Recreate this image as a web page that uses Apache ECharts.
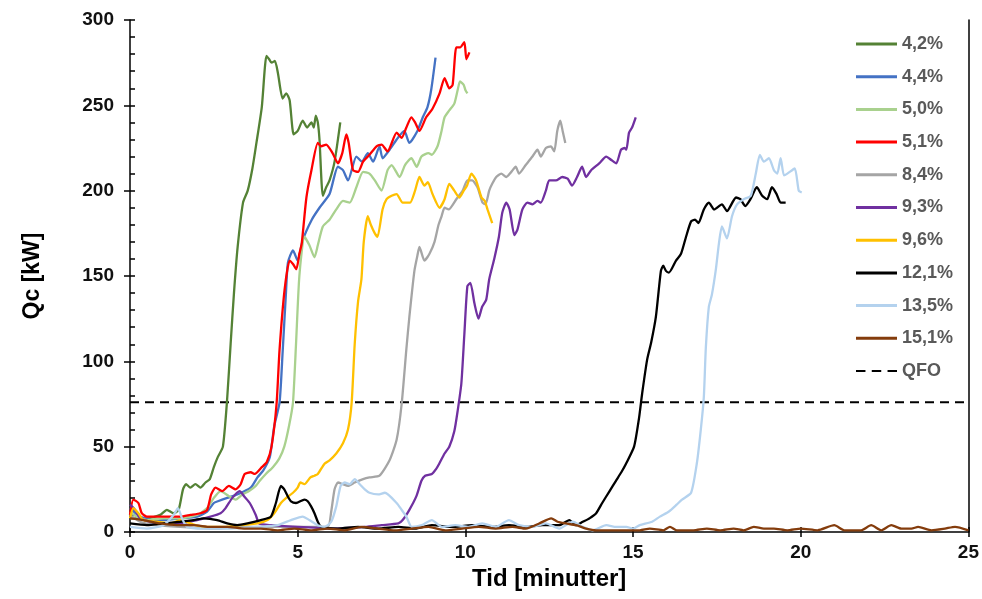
<!DOCTYPE html>
<html>
<head>
<meta charset="utf-8">
<title>Qc over tid</title>
<script src="https://cdn.jsdelivr.net/npm/echarts@6/dist/echarts.min.js"></script>
<style>
  html, body { margin: 0; padding: 0; background: #fff; }
  #chart { width: 982px; height: 599px; }
</style>
</head>
<body>
<div id="chart"></div>
<script>
// Measured heat release Qc [kW] against time [minutes], one curve per concentration.
const seriesNames = ['4,2%', '4,4%', '5,0%', '5,1%', '8,4%', '9,3%', '9,6%', '12,1%', '13,5%', '15,1%'];
const qfoName = 'QFO';
const qfoValue = 76;

const xTicks = [0, 5, 10, 15, 20, 25];
const yTicks = [0, 50, 100, 150, 200, 250, 300];

const time42 = [0, 0.5, 0.9, 1.1, 1.3, 1.45, 1.58, 1.67, 1.8, 1.95, 2.1, 2.25, 2.38, 2.5, 2.62, 2.77, 2.89, 3.0, 3.1, 3.21, 3.37, 3.51, 3.65, 3.77, 3.93, 4.07, 4.15, 4.22, 4.32, 4.41, 4.55, 4.66, 4.76, 4.88, 5.0, 5.15, 5.28, 5.41, 5.48, 5.54, 5.6, 5.65, 5.75, 5.85, 5.95, 6.1, 6.27];
const qc42   = [8, 8, 10, 13, 11, 13, 25, 28, 26, 28, 26, 29, 31, 38, 44, 50, 76, 110, 140, 167, 193, 200, 213, 228, 249, 279, 277, 275, 276, 269, 254, 257, 253, 233, 235, 241, 237, 240, 237, 244, 240, 230, 197, 202, 206, 217, 240];

const time44 = [0, 0.3, 0.7, 1.0, 1.5, 2.0, 2.3, 2.5, 2.62, 2.9, 3.2, 3.6, 3.8, 3.97, 4.17, 4.3, 4.46, 4.55, 4.65, 4.71, 4.86, 5.0, 5.15, 5.42, 5.65, 5.95, 6.2, 6.35, 6.5, 6.75, 6.92, 7.09, 7.25, 7.44, 7.53, 7.74, 7.99, 8.18, 8.33, 8.57, 8.73, 8.87, 8.98, 9.11];
const qc44   = [14, 9, 7, 7, 8, 9, 12, 17, 18, 20, 22, 26, 32, 36, 44, 62, 76, 105, 140, 158, 165, 159, 171, 183, 190, 198, 214, 212, 206, 220, 217, 222, 217, 226, 219, 224, 231, 235, 228, 235, 243, 249, 259, 278];

const time50 = [0, 0.2, 0.5, 1.0, 1.5, 2.0, 2.3, 2.5, 2.7, 2.95, 3.15, 3.35, 3.55, 3.75, 3.87, 4.05, 4.26, 4.45, 4.6, 4.75, 4.86, 4.95, 5.05, 5.2, 5.35, 5.5, 5.6, 5.75, 5.95, 6.15, 6.35, 6.55, 6.75, 6.95, 7.14, 7.3, 7.5, 7.68, 7.8, 8.04, 8.2, 8.39, 8.55, 8.69, 8.9, 9.0, 9.17, 9.29, 9.38, 9.52, 9.67, 9.77, 9.84, 9.95, 10.0, 10.06];
const qc50   = [12, 9, 7, 8, 8, 10, 14, 20, 24, 21, 19, 22, 24, 27, 30, 34, 38, 43, 50, 63, 76, 110, 150, 173, 168, 161, 168, 179, 183, 189, 194, 193, 202, 211, 210, 206, 200, 212, 215, 208, 215, 219, 214, 220, 222, 221, 226, 235, 243, 247, 251, 259, 264, 262, 259, 257];

const time51 = [0, 0.1, 0.25, 0.35, 0.5, 1.0, 1.5, 1.8, 2.1, 2.3, 2.42, 2.55, 2.75, 2.95, 3.15, 3.3, 3.42, 3.6, 3.72, 3.93, 4.08, 4.22, 4.37, 4.46, 4.61, 4.76, 4.86, 4.96, 5.05, 5.12, 5.26, 5.41, 5.6, 5.7, 5.85, 6.04, 6.2, 6.33, 6.45, 6.52, 6.65, 6.8, 6.95, 7.14, 7.35, 7.5, 7.68, 7.95, 8.1, 8.24, 8.39, 8.5, 8.63, 8.83, 9.02, 9.23, 9.38, 9.52, 9.62, 9.73, 9.85, 9.97, 10.03, 10.12];
const qc51   = [10, 19, 17, 11, 9, 9, 9, 10, 11, 13, 22, 26, 24, 27, 25, 28, 34, 35, 34, 38, 41, 50, 75, 107, 142, 159, 157, 154, 163, 169, 196, 212, 228, 226, 227, 222, 216, 222, 233, 228, 212, 211, 217, 221, 226, 227, 223, 234, 231, 237, 243, 240, 235, 243, 248, 257, 266, 260, 262, 284, 284, 287, 277, 281];

const time84 = [0, 0.3, 0.8, 1.5, 2.5, 3.5, 4.5, 5.5, 5.9, 6.0, 6.1, 6.2, 6.35, 6.5, 6.7, 6.95, 7.14, 7.44, 7.74, 7.95, 8.1, 8.24, 8.33, 8.48, 8.57, 8.63, 8.78, 8.93, 9.08, 9.2, 9.29, 9.38, 9.5, 9.73, 9.92, 10.06, 10.2, 10.36, 10.51, 10.6, 10.71, 10.8, 10.92, 11.07, 11.22, 11.37, 11.5, 11.6, 11.8, 12.0, 12.15, 12.25, 12.4, 12.55, 12.65, 12.74, 12.83, 12.9, 12.98];
const qc84   = [10, 6, 4, 3, 2, 3, 3, 3, 3, 12, 25, 29, 28, 27, 29, 31, 32, 33, 42, 54, 75, 107, 126, 153, 162, 167, 159, 163, 170, 180, 185, 190, 189, 195, 200, 206, 206, 202, 193, 192, 200, 204, 208, 210, 208, 211, 214, 210, 215, 220, 224, 220, 225, 226, 223, 235, 241, 235, 228];

const time93 = [0, 0.15, 0.3, 0.6, 1.0, 1.5, 2.0, 2.4, 2.7, 2.85, 3.05, 3.27, 3.4, 3.57, 3.75, 3.85, 4.2, 5.0, 6.0, 7.0, 7.5, 8.0, 8.13, 8.33, 8.54, 8.69, 8.8, 9.0, 9.13, 9.22, 9.38, 9.52, 9.67, 9.77, 9.88, 9.97, 10.06, 10.15, 10.27, 10.39, 10.5, 10.62, 10.71, 10.86, 11.0, 11.1, 11.22, 11.32, 11.46, 11.55, 11.7, 11.85, 12.0, 12.15, 12.25, 12.4, 12.5, 12.7, 12.89, 13.05, 13.18, 13.33, 13.48, 13.6, 13.75, 13.99, 14.2, 14.35, 14.5, 14.64, 14.75, 14.8, 14.88, 14.97, 15.08];
const qc93   = [16, 13, 8, 6, 5, 5, 7, 9, 11, 14, 20, 24, 21, 17, 10, 5, 4, 3, 2, 3, 4, 5, 7, 13, 21, 30, 33, 34, 37, 40, 46, 50, 59, 71, 87, 116, 144, 146, 134, 125, 132, 136, 148, 160, 173, 187, 193, 189, 174, 177, 189, 193, 192, 194, 193, 200, 206, 206, 208, 207, 203, 208, 214, 208, 212, 216, 220, 218, 216, 224, 225, 224, 234, 237, 243];

const time96 = [0, 0.1, 0.25, 0.4, 0.8, 1.2, 1.5, 1.8, 2.2, 2.8, 3.3, 3.8, 4.1, 4.3, 4.5, 4.66, 4.86, 5.0, 5.08, 5.2, 5.38, 5.5, 5.6, 5.8, 5.95, 6.15, 6.35, 6.5, 6.61, 6.7, 6.8, 6.9, 6.97, 7.09, 7.18, 7.3, 7.38, 7.53, 7.65, 7.8, 7.95, 8.13, 8.35, 8.5, 8.63, 8.78, 8.88, 9.02, 9.23, 9.38, 9.52, 9.67, 9.82, 9.95, 10.05, 10.18, 10.32, 10.48, 10.58, 10.66, 10.8];
const qc96   = [8, 14, 11, 7, 6, 5, 7, 5, 3, 3, 4, 5, 7, 11, 17, 20, 23, 26, 29, 28, 32, 33, 34, 40, 42, 46, 52, 60, 76, 110, 135, 148, 170, 185, 180, 175, 173, 189, 195, 197, 198, 193, 193, 200, 208, 203, 205, 198, 190, 195, 204, 200, 196, 200, 203, 210, 206, 196, 194, 189, 181];

const time121 = [0, 0.5, 1.0, 1.5, 1.9, 2.2, 2.6, 2.9, 3.2, 3.5, 3.9, 4.2, 4.35, 4.5, 4.6, 4.7, 4.8, 4.95, 5.2, 5.3, 5.4, 5.5, 5.6, 5.7, 6.2, 6.8, 7.4, 8.0, 8.5, 9.0, 9.6, 10.2, 10.8, 11.3, 11.8, 12.3, 12.8, 13.1, 13.3, 13.5, 13.7, 13.9, 14.08, 14.3, 14.49, 14.65, 14.79, 15.03, 15.18, 15.27, 15.42, 15.54, 15.68, 15.83, 15.9, 15.98, 16.07, 16.28, 16.43, 16.58, 16.73, 16.85, 16.95, 17.11, 17.26, 17.42, 17.65, 17.8, 18.07, 18.2, 18.35, 18.5, 18.69, 18.85, 19.0, 19.14, 19.28, 19.4, 19.55];
const qc121   = [5, 4, 5, 6, 7, 8, 7, 5, 4, 5, 7, 9, 17, 27, 25, 21, 18, 17, 19, 18, 15, 11, 6, 3, 2, 3, 2, 3, 2, 4, 3, 4, 3, 4, 3, 4, 4, 7, 4, 6, 8, 11, 17, 24, 30, 35, 40, 50, 67, 81, 101, 111, 126, 153, 156, 153, 152, 159, 163, 173, 182, 183, 181, 189, 193, 189, 192, 188, 196, 195, 191, 195, 202, 197, 195, 202, 198, 193, 193];

const time135 = [0, 0.5, 1.0, 1.3, 1.43, 1.55, 1.7, 2.2, 3.0, 3.8, 4.4, 4.8, 5.15, 5.35, 5.6, 5.8, 6.0, 6.15, 6.28, 6.4, 6.55, 6.7, 6.85, 7.0, 7.14, 7.4, 7.6, 7.95, 8.1, 8.24, 8.4, 8.7, 9.0, 9.3, 9.7, 10.1, 10.5, 10.9, 11.3, 11.6, 12.0, 12.4, 12.8, 13.2, 13.5, 13.8, 14.2, 14.5, 14.8, 15.0, 15.2, 15.57, 15.8, 16.07, 16.3, 16.46, 16.73, 16.9, 17.02, 17.11, 17.17, 17.26, 17.35, 17.47, 17.56, 17.65, 17.8, 17.95, 18.1, 18.3, 18.51, 18.66, 18.78, 18.9, 19.05, 19.2, 19.3, 19.4, 19.5, 19.6, 19.82, 19.94, 20.03];
const qc135   = [3, 2, 4, 10, 14, 8, 3, 2, 2, 3, 4, 7, 9, 7, 4, 3, 6, 15, 27, 29, 28, 31, 28, 25, 23, 22, 23, 17, 13, 9, 3, 4, 7, 3, 4, 3, 5, 3, 7, 4, 3, 5, 2, 6, 3, 1, 4, 3, 3, 2, 4, 6, 9, 12, 16, 19, 23, 40, 60, 79, 108, 132, 139, 154, 169, 179, 172, 185, 192, 195, 197, 210, 221, 217, 219, 212, 210, 219, 209, 210, 213, 200, 199];

const time151 = [0, 0.4, 0.9, 1.4, 1.9, 2.4, 2.9, 3.4, 3.9, 4.4, 4.9, 5.4, 5.9, 6.4, 6.9, 7.4, 7.9, 8.4, 8.9, 9.4, 9.9, 10.4, 10.9, 11.4, 11.8, 12.2, 12.56, 12.75, 13.0, 13.3, 13.6, 13.9, 14.3, 14.8, 15.2, 15.5, 15.9, 16.1, 16.3, 16.8, 17.2, 17.6, 18.0, 18.3, 18.6, 18.9, 19.2, 19.6, 20.0, 20.5, 21.0, 21.3, 21.8, 22.1, 22.4, 22.7, 23.0, 23.3, 23.5, 23.9, 24.3, 24.6, 25.0];
const qc151   = [8, 7, 5, 4, 4, 3, 3, 2, 2, 1, 2, 1, 2, 1, 3, 2, 1, 2, 3, 1, 2, 3, 2, 3, 2, 5, 8, 6, 5, 4, 2, 1, 1, 1, 1, 2, 1, 3, 1, 1, 2, 1, 2, 1, 3, 2, 2, 1, 2, 1, 4, 1, 1, 4, 1, 4, 2, 2, 3, 1, 2, 3, 1];

const curveTimes  = [time42, time44, time50, time51, time84, time93, time96, time121, time135, time151];
const curveValues = [qc42, qc44, qc50, qc51, qc84, qc93, qc96, qc121, qc135, qc151];
const curveColors = ['#548235', '#4472C4', '#A9D18E', '#FF0000', '#A5A5A5', '#7030A0', '#FFC000', '#000000', '#B4D2EE', '#843C0C'];

const pairs = (t, q) => t.map((v, i) => [v, q[i]]);

const font = 'Arial, "Liberation Sans", sans-serif';

const series = seriesNames.map((name, i) => ({
  name: name,
  type: 'line',
  data: pairs(curveTimes[i], curveValues[i]),
  showSymbol: false,
  symbol: 'none',
  smooth: 0.2,
  color: curveColors[i],
  lineStyle: { color: curveColors[i], width: 2.3 },
  emphasis: { disabled: true },
  z: 3
}));

series.push({
  name: qfoName,
  type: 'line',
  data: [[xTicks[0], qfoValue], [xTicks[xTicks.length - 1], qfoValue]],
  showSymbol: false,
  symbol: 'none',
  color: '#000',
  lineStyle: { color: '#000', width: 2, type: [9, 6] },
  emphasis: { disabled: true },
  z: 2
});

const legendData = seriesNames.map(n => ({ name: n, icon: 'rect' }));
legendData.push({ name: qfoName, icon: 'path://M0,0H9V2H0ZM15,0H24V2H15ZM30,0H39V2H30Z' });

const chart = echarts.init(document.getElementById('chart'), null, { renderer: 'canvas' });
chart.setOption({
  animation: false,
  backgroundColor: '#fff',
  grid: { left: 130, right: 12, top: 20, bottom: 67 },
  legend: {
    orient: 'vertical',
    left: 851,
    top: 30,
    itemWidth: 41,
    itemHeight: 3,
    itemGap: 14.7,
    data: legendData,
    textStyle: { fontFamily: font, fontWeight: 'bold', fontSize: 18, color: '#595959', lineHeight: 18 },
    selectedMode: false
  },
  xAxis: [{
    type: 'value',
    min: xTicks[0],
    max: xTicks[xTicks.length - 1],
    interval: 5,
    position: 'bottom',
    name: 'Tid [minutter]',
    nameLocation: 'middle',
    nameGap: 35,
    nameTextStyle: { fontFamily: font, fontWeight: 'bold', fontSize: 24, color: '#000' },
    axisLine: { show: true, lineStyle: { color: '#000', width: 1.5 } },
    axisTick: { show: true, length: 5, lineStyle: { color: '#000', width: 1.5 } },
    axisLabel: { margin: 11, fontFamily: font, fontWeight: 'bold', fontSize: 19, color: '#111' },
    splitLine: { show: false }
  }, {
    type: 'value',
    min: xTicks[0],
    max: xTicks[xTicks.length - 1],
    interval: 5,
    position: 'bottom',
    offset: 0,
    axisLine: { show: false },
    axisTick: { show: true, inside: true, length: 5, lineStyle: { color: '#000', width: 1.5 } },
    axisLabel: { show: false },
    splitLine: { show: false }
  }],
  yAxis: [{
    type: 'value',
    min: yTicks[0],
    max: yTicks[yTicks.length - 1],
    interval: 50,
    position: 'left',
    name: 'Qc [kW]',
    nameLocation: 'middle',
    nameRotate: 90,
    nameGap: 86,
    nameTextStyle: { fontFamily: font, fontWeight: 'bold', fontSize: 23, color: '#000' },
    axisLine: { show: true, lineStyle: { color: '#000', width: 1.5 } },
    axisTick: { show: true, length: 6, lineStyle: { color: '#000', width: 1.5 } },
    axisLabel: { margin: 16, fontFamily: font, fontWeight: 'bold', fontSize: 19, color: '#111' },
    splitLine: { show: false }
  }, {
    type: 'value',
    min: yTicks[0],
    max: yTicks[yTicks.length - 1],
    interval: 50,
    position: 'left',
    offset: 0,
    axisLine: { show: false },
    axisTick: { show: true, inside: true, length: 5, lineStyle: { color: '#000', width: 1.5 } },
    minorTick: { show: true, splitNumber: 5, length: 5, lineStyle: { color: '#000', width: 1.5 } },
    axisLabel: { show: false },
    splitLine: { show: false }
  }, {
    type: 'value',
    min: yTicks[0],
    max: yTicks[yTicks.length - 1],
    interval: 50,
    position: 'right',
    offset: 0,
    axisLine: { show: true, lineStyle: { color: '#000', width: 1.5 } },
    axisTick: { show: false },
    axisLabel: { show: false },
    splitLine: { show: false }
  }],
  series: series
});
</script>
</body>
</html>
